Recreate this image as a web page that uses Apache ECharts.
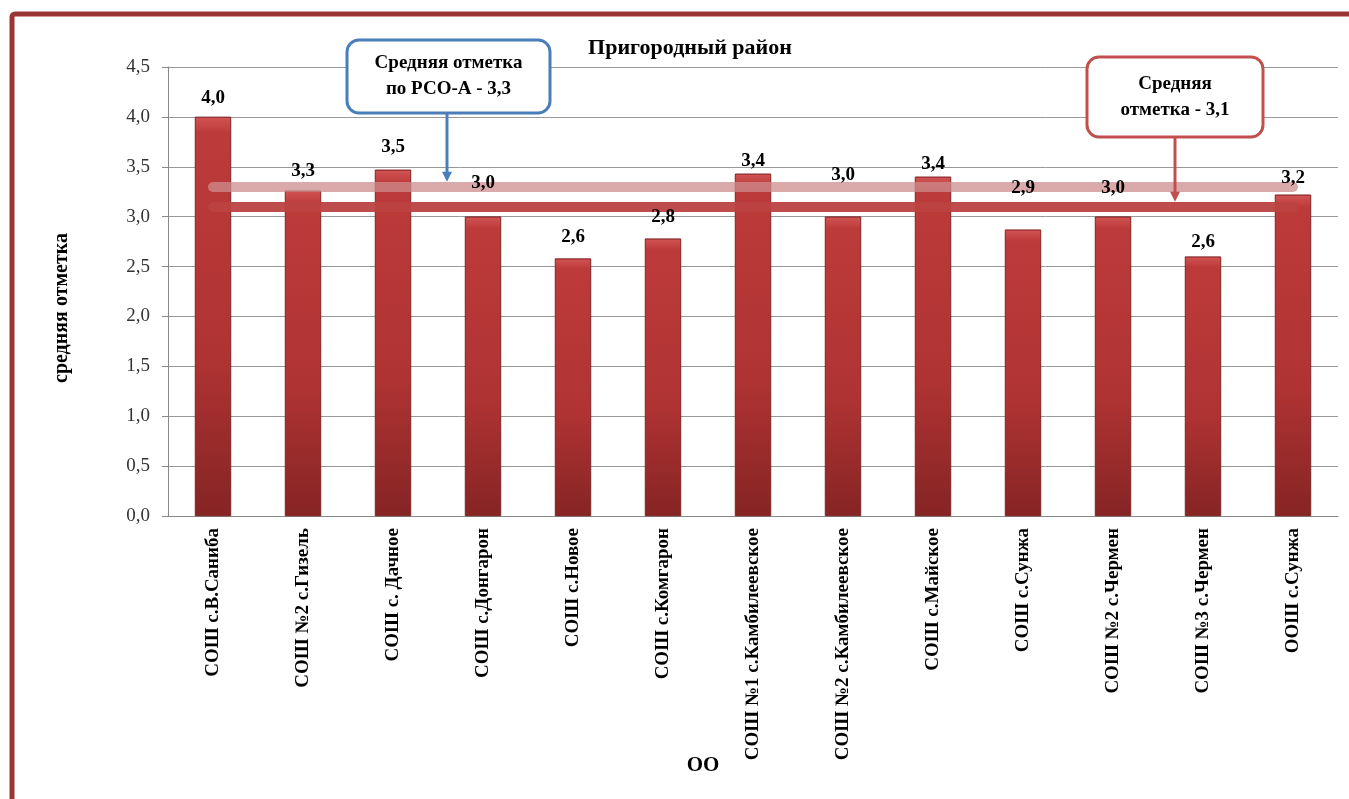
<!DOCTYPE html>
<html>
<head>
<meta charset="utf-8">
<script src="https://cdn.jsdelivr.net/npm/echarts@6/dist/echarts.min.js"></script>
<style>
  html, body { margin: 0; padding: 0; background: #fff; }
  #chart { width: 1349px; height: 799px; }
</style>
</head>
<body>
<div id="chart"></div>
<script>
// школы района
const schools = [
  'СОШ с.В.Саниба', 'СОШ №2 с.Гизель', 'СОШ с. Дачное', 'СОШ с.Донгарон',
  'СОШ с.Новое', 'СОШ с.Комгарон', 'СОШ №1 с.Камбилеевское', 'СОШ №2 с.Камбилеевское',
  'СОШ с.Майское', 'СОШ с.Сунжа', 'СОШ №2 с.Чермен', 'СОШ №3 с.Чермен', 'ООШ с.Сунжа'
];
// средняя отметка по школам
const scores = [4.0, 3.26, 3.47, 3.0, 2.58, 2.78, 3.43, 3.0, 3.4, 2.87, 3.0, 2.6, 3.22];
const rsoAverage = 3.3;      // по РСО-А
const districtAverage = 3.1; // по району
const yTicks = [0, 0.5, 1, 1.5, 2, 2.5, 3, 3.5, 4, 4.5];

// подписи над столбиками сдвинуты как в оригинале
const labelDistance = [9, 10, 13, 24, 12, 12, 3, 32, 3, 32, 19, 5, 7];

const serif = 'Liberation Serif, Times New Roman, serif';
const fmt = v => v.toFixed(1).replace('.', ',');

const barColor = {
  type: 'linear', x: 0, y: 0, x2: 0, y2: 1,
  colorStops: [
    { offset: 0, color: '#d25454' },
    { offset: 0.04, color: '#bd3a3a' },
    { offset: 0.6, color: '#b03333' },
    { offset: 1, color: '#862424' }
  ]
};

const chart = echarts.init(document.getElementById('chart'));

const option = {
  animation: false,
  title: {
    text: 'Пригородный район',
    left: 685,
    top: 32,
    textAlign: 'center',
    textStyle: { fontFamily: serif, fontSize: 22, fontWeight: 'bold', color: '#000' }
  },
  grid: { left: 168, right: 11, top: 67, bottom: 283 },
  xAxis: {
    type: 'category',
    data: schools,
    axisLine: { lineStyle: { color: '#888' } },
    axisTick: { length: 7, lineStyle: { color: '#888' } },
    axisLabel: {
      rotate: 90, interval: 0, margin: 12,
      fontFamily: serif, fontSize: 19, fontWeight: 'bold', color: '#000'
    }
  },
  yAxis: {
    type: 'value',
    min: yTicks[0],
    max: yTicks[yTicks.length - 1],
    interval: 0.5,
    axisLine: { show: true, lineStyle: { color: '#888' } },
    axisTick: { show: true, length: 6, lineStyle: { color: '#888' } },
    axisLabel: { fontFamily: serif, fontSize: 19, color: '#333', margin: 18, formatter: fmt },
    splitLine: { lineStyle: { color: '#999' } }
  },
  series: [{
    type: 'bar',
    barWidth: '40%',
    data: scores,
    itemStyle: { color: barColor, borderColor: '#7a1e1e', borderWidth: 0.6 },
    markLine: {
      silent: true,
      symbol: 'none',
      label: { show: false },
      lineStyle: { type: 'solid', width: 10, cap: 'round' },
      data: [
        [{ coord: [schools[0], rsoAverage], lineStyle: { color: 'rgba(205,140,140,0.75)' } },
         { coord: [schools[schools.length - 1], rsoAverage] }],
        [{ coord: [schools[0], districtAverage], lineStyle: { color: 'rgba(188,66,66,0.95)' } },
         { coord: [schools[schools.length - 1], districtAverage] }]
      ]
    }
  }, {
    // прозрачная копия — только для подписей поверх линий средних
    type: 'bar',
    barWidth: '40%',
    barGap: '-100%',
    silent: true,
    z: 10,
    data: scores.map((v, i) => ({ value: v, label: { distance: labelDistance[i] } })),
    itemStyle: { color: 'rgba(0,0,0,0)' },
    label: {
      show: true, position: 'top',
      fontFamily: serif, fontSize: 19, fontWeight: 'bold', color: '#000',
      formatter: p => fmt(p.value)
    }
  }]
};

chart.setOption(option);

// выноски со стрелками к линиям средних
const rsoY = chart.convertToPixel({ yAxisIndex: 0 }, rsoAverage) - 5;
const distY = chart.convertToPixel({ yAxisIndex: 0 }, districtAverage) - 5;

function callout(x, y, w, h, color, lines, arrowX, tipY) {
  const txtStyle = {
    fontFamily: serif, fontSize: 19, fontWeight: 'bold', fill: '#000',
    textAlign: 'center', textVerticalAlign: 'middle'
  };
  return [
    { type: 'rect', shape: { x, y, width: w, height: h, r: 12 },
      style: { fill: '#fff', stroke: color, lineWidth: 3 }, z: 100 },
    { type: 'text', x: x + w / 2, y: y + h / 2 - 13, z: 101,
      style: Object.assign({ text: lines[0] }, txtStyle) },
    { type: 'text', x: x + w / 2, y: y + h / 2 + 13, z: 101,
      style: Object.assign({ text: lines[1] }, txtStyle) },
    { type: 'line', shape: { x1: arrowX, y1: y + h, x2: arrowX, y2: tipY - 8 },
      style: { stroke: color, lineWidth: 3 }, z: 100 },
    { type: 'polygon', shape: { points: [[arrowX - 5, tipY - 10], [arrowX + 5, tipY - 10], [arrowX, tipY]] },
      style: { fill: color }, z: 100 }
  ];
}

chart.setOption({
  graphic: [
    // рамка
    { type: 'rect', shape: { x: 12, y: 14, width: 1400, height: 900, r: 3 },
      style: { fill: 'none', stroke: '#9b3535', lineWidth: 5 }, z: 0 },
    { type: 'text', x: 62, y: 308, rotation: Math.PI / 2, z: 10,
      style: { text: 'средняя отметка', fontFamily: serif, fontSize: 20, fontWeight: 'bold',
               fill: '#000', textAlign: 'center', textVerticalAlign: 'middle' } },
    { type: 'text', x: 703, y: 766, z: 10,
      style: { text: 'ОО', fontFamily: serif, fontSize: 21, fontWeight: 'bold',
               fill: '#000', textAlign: 'center', textVerticalAlign: 'middle' } },
    ...callout(347, 40, 203, 73, '#4a7ebb', ['Средняя отметка', 'по РСО-А - 3,3'], 447, rsoY),
    ...callout(1087, 57, 176, 80, '#c0504d', ['Средняя', 'отметка - 3,1'], 1175, distY)
  ]
});
</script>
</body>
</html>
